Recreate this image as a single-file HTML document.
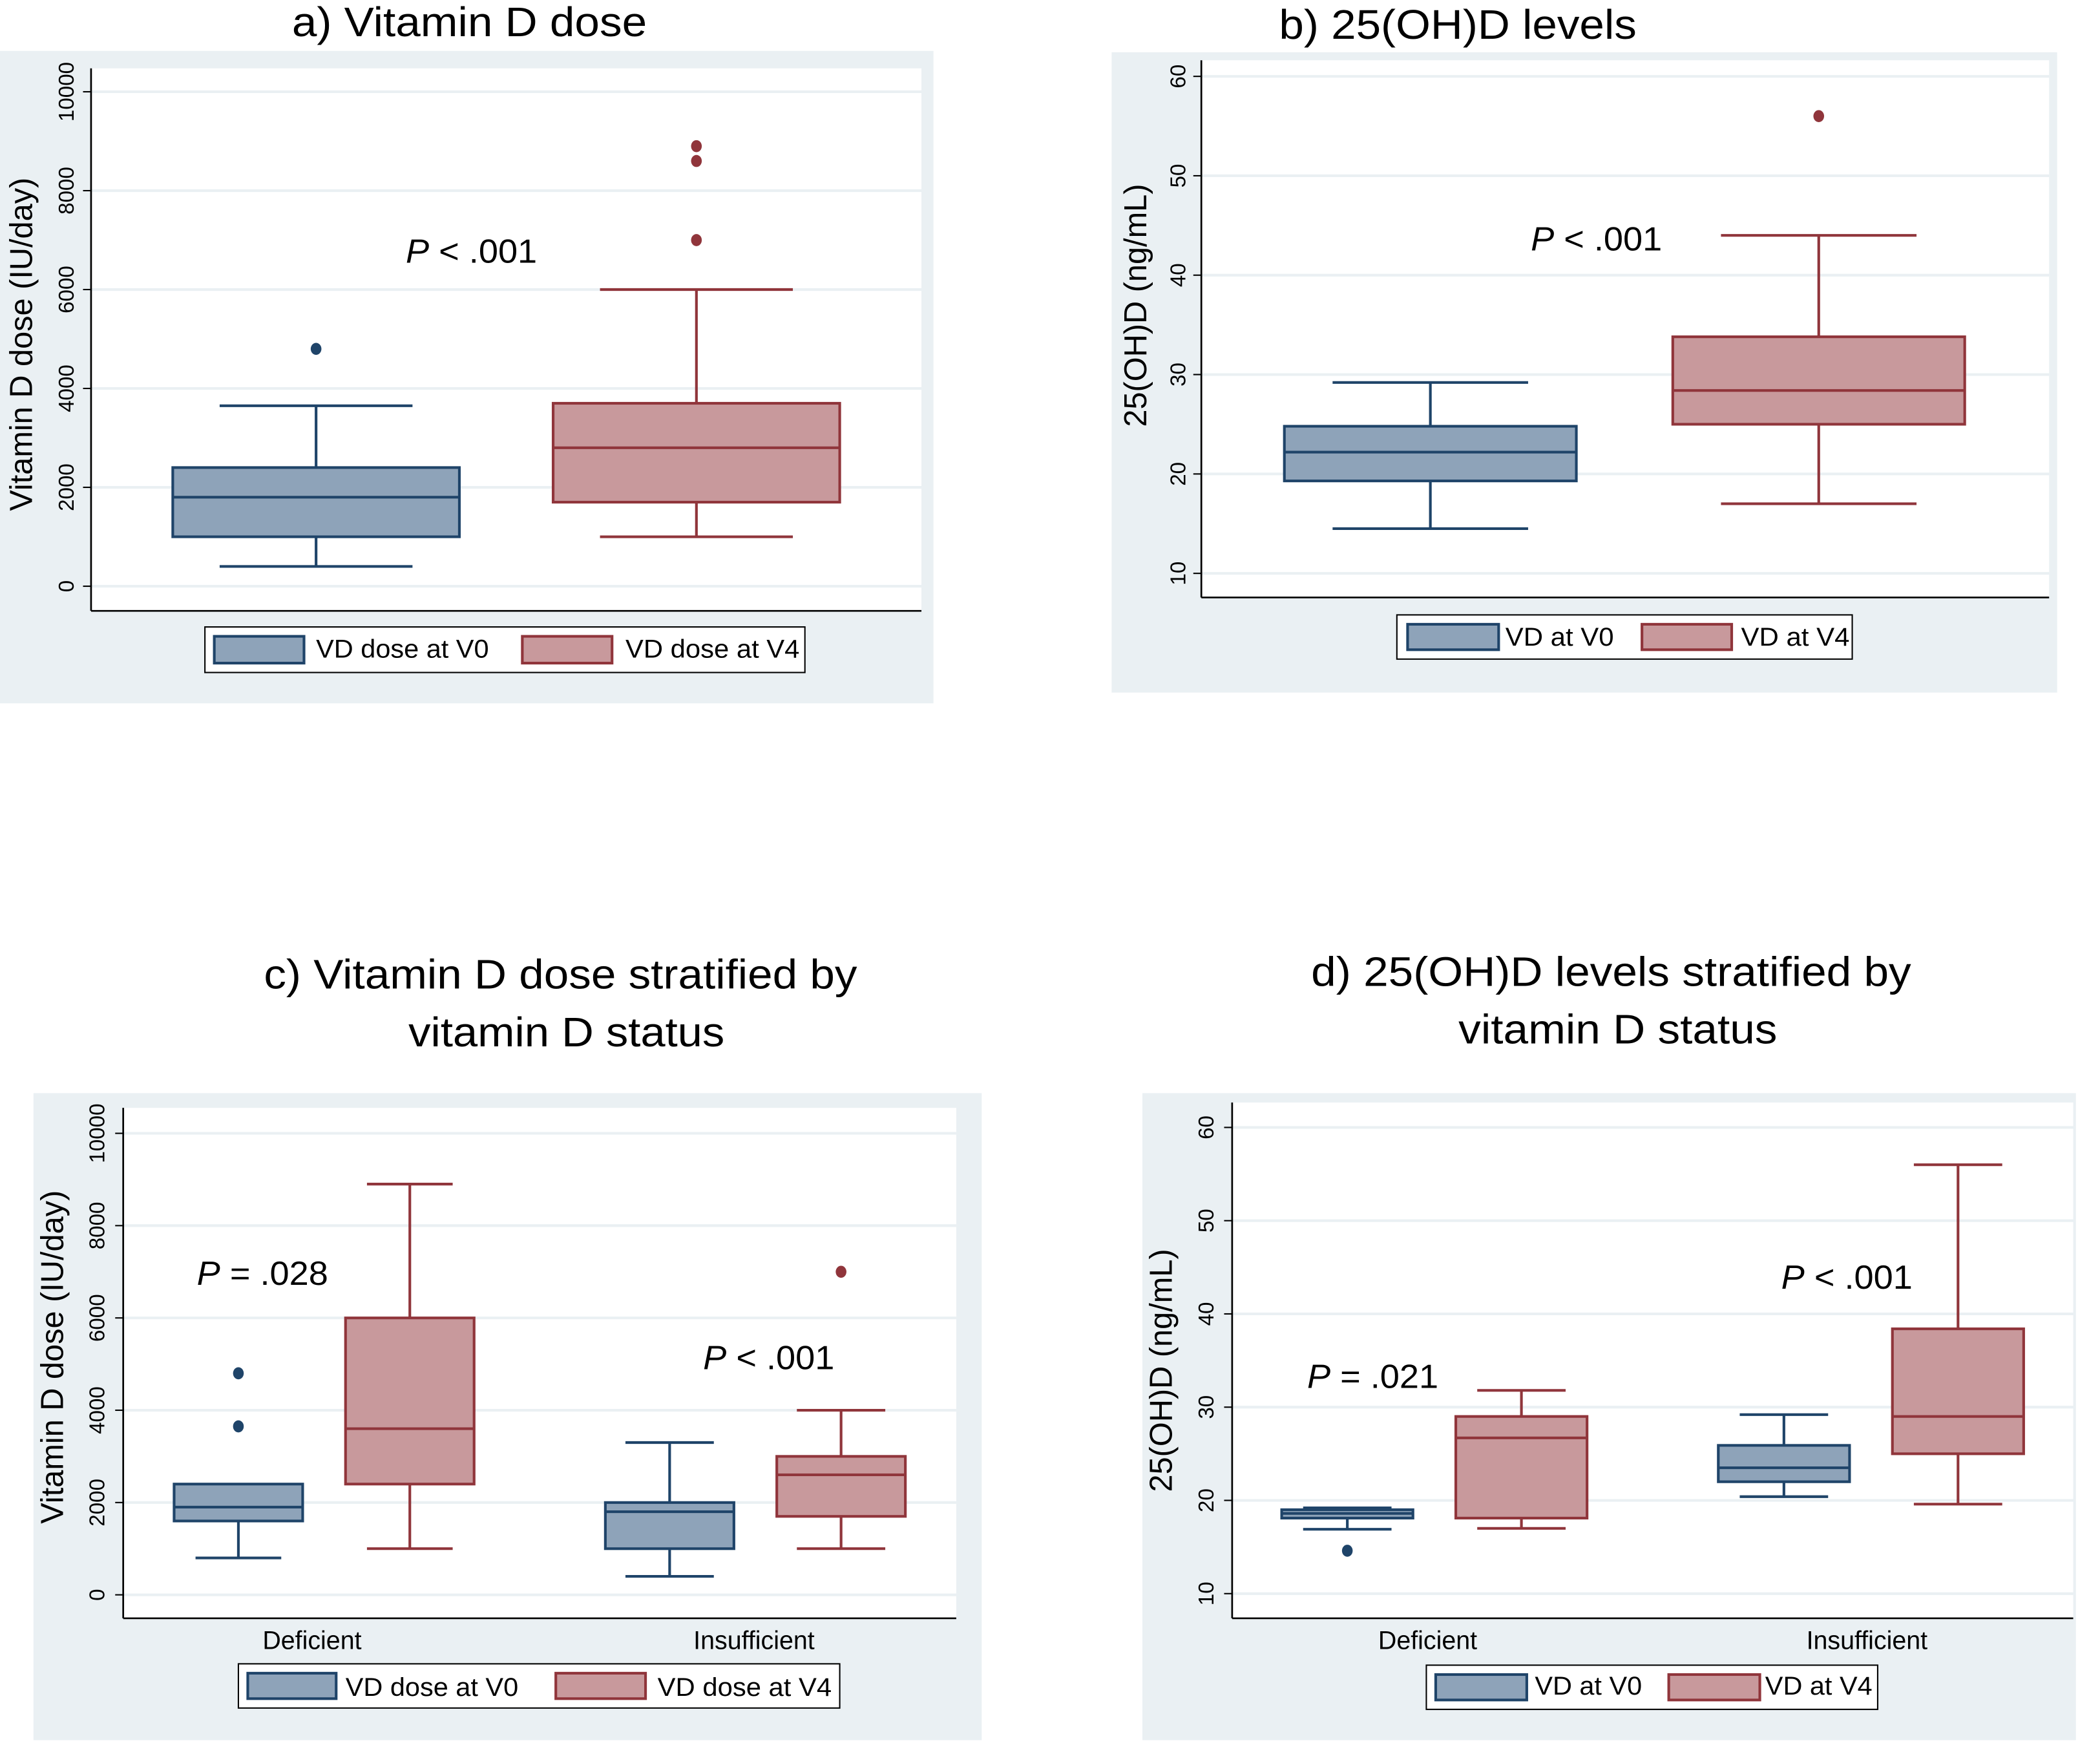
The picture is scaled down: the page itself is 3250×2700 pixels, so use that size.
<!DOCTYPE html>
<html><head><meta charset="utf-8">
<style>
html,body{margin:0;padding:0;background:#fff;}
svg{display:block;}
text{font-family:"Liberation Sans",Arial,sans-serif;fill:#000;}
</style></head>
<body>
<svg id="fig" width="3250" height="2700" viewBox="0 0 1568 1302.6" preserveAspectRatio="none" xmlns="http://www.w3.org/2000/svg"></svg>
<script>
// ---- Panel a data: Vitamin D dose (IU/day) ----
const aCats = ["VD dose at V0","VD dose at V4"];
const aQ1 = [1000, 1700];
const aMed = [1800, 2800];
const aQ3 = [2400, 3700];
const aLo = [400, 1000];
const aHi = [3650, 6000];
const aOut = [[4800],[7000,8600,8900]];
const aTicks = [0,2000,4000,6000,8000,10000];
// ---- Panel b data: 25(OH)D (ng/mL) ----
const bQ1 = [19.3, 25];
const bMed = [22.2, 28.4];
const bQ3 = [24.8, 33.8];
const bLo = [14.5, 17];
const bHi = [29.2, 44];
const bOut = [[],[56]];
const bTicks = [10,20,30,40,50,60];
// ---- Panel c data: dose by status (Deficient V0, Deficient V4, Insufficient V0, Insufficient V4) ----
const cGroups = ["Deficient","Insufficient"];
const cQ1 = [1600, 2400, 1000, 1700];
const cMed = [1900, 3600, 1800, 2600];
const cQ3 = [2400, 6000, 2000, 3000];
const cLo = [800, 1000, 400, 1000];
const cHi = [2400, 8900, 3300, 4000];
const cOut = [[3650,4800],[],[],[7000]];
// ---- Panel d data: 25(OH)D by status ----
const dQ1 = [18.1, 18.1, 22, 25];
const dMed = [18.6, 26.7, 23.5, 29];
const dQ3 = [19, 29, 25.9, 38.4];
const dLo = [16.9, 17, 20.4, 19.6];
const dHi = [19.2, 31.8, 29.2, 56];
const dOut = [[14.6],[],[],[]];

const NS="http://www.w3.org/2000/svg";
const svg=document.getElementById('fig');
const BLUE={fill:"#8ea3b9",stroke:"#1f4469"}, RED={fill:"#c8999c",stroke:"#90353b"};
function el(tag,attrs,parent,txt){const e=document.createElementNS(NS,tag);for(const k in attrs)e.setAttribute(k,attrs[k]);if(txt!==undefined)e.textContent=txt;(parent||svg).appendChild(e);return e;}

function panel(p){
  const g=el('g',{});
  
  
  const bg=el('rect',{x:p.bg[0],y:p.bg[1],width:p.bg[2]-p.bg[0],height:p.bg[3]-p.bg[1],fill:"#eaf0f3"},g);
  
  
  const pl=el('rect',{x:p.L,y:p.T,width:p.R-p.L,height:p.B-p.T,fill:"#fff"},g);
  
  
  const Y=v=>p.y0-(v-p.v0)*p.k;
  p.ticks.forEach(t=>{
    const gl=el('line',{x1:p.L,x2:p.R,y1:Y(t),y2:Y(t),stroke:"#eaf0f3","stroke-width":2},g);
    
    
    el('line',{x1:p.L-6,x2:p.L,y1:Y(t),y2:Y(t),stroke:"#000","stroke-width":1},g);
    const tl=el('text',{x:0,y:0,"font-size":16,"text-anchor":"middle",transform:`translate(${p.tickX},${Y(t)}) rotate(-90)`},g,String(t));
    
    
  });
  el('line',{x1:p.L,x2:p.L,y1:p.T,y2:p.B,stroke:"#000","stroke-width":1.3},g);
  el('line',{x1:p.L,x2:p.R,y1:p.B,y2:p.B,stroke:"#000","stroke-width":1.3},g);
  const yt=el('text',{x:0,y:0,"font-size":23.5,"text-anchor":"middle",transform:`translate(${p.ytX},${p.ytY}) rotate(-90)`},g,p.ytitle);
  
  
  p.titles.forEach(t=>{
    const tt=el('text',{x:t[0],y:t[2],"font-size":31,textLength:t[1]-t[0],lengthAdjust:"spacingAndGlyphs"},g,t[3]);
    
    
  });
  p.boxes.forEach((bx,i)=>{
    const c=bx.col, hw=bx.hw, cw=bx.cw, x=bx.x;
    const bg2=el('g',{},g);
    
    
    el('line',{x1:x,x2:x,y1:Y(p.hi[i]),y2:Y(p.q3[i]),stroke:c.stroke,"stroke-width":2},bg2);
    el('line',{x1:x,x2:x,y1:Y(p.q1[i]),y2:Y(p.lo[i]),stroke:c.stroke,"stroke-width":2},bg2);
    if(p.hi[i]>p.q3[i]) el('line',{x1:x-cw,x2:x+cw,y1:Y(p.hi[i]),y2:Y(p.hi[i]),stroke:c.stroke,"stroke-width":2},bg2);
    el('line',{x1:x-cw,x2:x+cw,y1:Y(p.lo[i]),y2:Y(p.lo[i]),stroke:c.stroke,"stroke-width":2},bg2);
    el('rect',{x:x-hw,y:Y(p.q3[i]),width:2*hw,height:Y(p.q1[i])-Y(p.q3[i]),fill:c.fill,stroke:c.stroke,"stroke-width":2},bg2);
    el('line',{x1:x-hw,x2:x+hw,y1:Y(p.med[i]),y2:Y(p.med[i]),stroke:c.stroke,"stroke-width":2},bg2);
    p.out[i].forEach(o=>{
      const d=el('ellipse',{cx:x,cy:Y(o),rx:4,ry:4.5,fill:c.stroke},g);
      
      
    });
  });
  (p.cats||[]).forEach(ct=>{
    const t=el('text',{x:ct[0],y:1231,"font-size":19,"text-anchor":"middle"},g,ct[1]);
    
    
  });
  p.ptexts.forEach(pt=>{
    const t=el('text',{x:pt[0],y:pt[1],"font-size":25,textLength:98,lengthAdjust:"spacingAndGlyphs"},g);
    
    
    el('tspan',{"font-style":"italic"},t,"P");
    el('tspan',{},t,pt[2]);
  });
  const lg=el('g',{},g);
  
  
  const L=p.legend;
  el('rect',{x:L.box[0],y:L.box[1],width:L.box[2]-L.box[0],height:L.box[3]-L.box[1],fill:"#fff",stroke:"#000","stroke-width":1},lg);
  L.items.forEach((it,j)=>{
    const c=j===0?BLUE:RED;
    const le=el('g',{},lg);
    
    
    el('rect',{x:it[0],y:L.box[1]+7,width:it[1]-it[0],height:L.box[3]-L.box[1]-14,fill:c.fill,stroke:c.stroke,"stroke-width":2},le);
    el('text',{x:it[2],y:L.base,"font-size":19,textLength:it[3]-it[2],lengthAdjust:"spacingAndGlyphs"},le,it[4]);
  });
}

const cw=72, hw=107;
panel({name:'panel-a-vitamin-d-dose',bg:[0,38,697,525],L:68,R:688,T:51,B:456,y0:437.6,v0:0,k:0.03691,ticks:aTicks,tickX:55,
  ytitle:"Vitamin D dose (IU/day)",ytX:24,ytY:257,titles:[[218,483,27,"a) Vitamin D dose"]],
  q1:aQ1,med:aMed,q3:aQ3,lo:aLo,hi:aHi,out:aOut,
  boxes:[{x:236,hw:hw,cw:cw,col:BLUE,label:aCats[0]},{x:520,hw:107,cw:72,col:RED,label:aCats[1]}],
  ptexts:[[303,196," < .001"]],
  legend:{box:[153,468,601,502],base:491,items:[[160,227,236,365,"VD dose at V0"],[390,457,467,597,"VD dose at V4"]]}});
panel({name:'panel-b-25ohd-levels',bg:[830,39,1536,517],L:897,R:1530,T:45,B:446,y0:428,v0:10,k:7.42,ticks:bTicks,tickX:885,
  ytitle:"25(OH)D (ng/mL)",ytX:856,ytY:228,titles:[[955,1222,29,"b) 25(OH)D levels"]],
  q1:bQ1,med:bMed,q3:bQ3,lo:bLo,hi:bHi,out:bOut,
  boxes:[{x:1068,hw:109,cw:73,col:BLUE,label:"v0"},{x:1358,hw:109,cw:73,col:RED,label:"v4"}],
  ptexts:[[1143,187," < .001"]],
  legend:{box:[1043,459,1383,492],base:482,items:[[1051,1119,1124,1205,"VD at V0"],[1226,1293,1300,1381,"VD at V4"]]}});
panel({name:'panel-c-dose-by-status',bg:[25,816,733,1299],L:92,R:714,T:827,B:1208,y0:1190.5,v0:0,k:0.03445,ticks:aTicks,tickX:78,
  ytitle:"Vitamin D dose (IU/day)",ytX:47,ytY:1013,titles:[[197,640,738,"c) Vitamin D dose stratified by"],[305,541,781,"vitamin D status"]],
  q1:cQ1,med:cMed,q3:cQ3,lo:cLo,hi:cHi,out:cOut,
  boxes:[{x:178,hw:48,cw:32,col:BLUE,label:"deficient-v0"},{x:306,hw:48,cw:32,col:RED,label:"deficient-v4"},{x:500,hw:48,cw:33,col:BLUE,label:"insufficient-v0"},{x:628,hw:48,cw:33,col:RED,label:"insufficient-v4"}],
  cats:[[233,cGroups[0]],[563,cGroups[1]]],
  ptexts:[[147,959," = .028"],[525,1022," < .001"]],
  legend:{box:[178,1242,627,1275],base:1266,items:[[185,251,258,387,"VD dose at V0"],[415,482,491,621,"VD dose at V4"]]}});
panel({name:'panel-d-25ohd-by-status',bg:[853,816,1550,1299],L:920,R:1548,T:823,B:1208,y0:1189.6,v0:10,k:6.96,ticks:bTicks,tickX:906,
  ytitle:"25(OH)D (ng/mL)",ytX:875,ytY:1023,titles:[[979,1427,736,"d) 25(OH)D levels stratified by"],[1089,1327,779,"vitamin D status"]],
  q1:dQ1,med:dMed,q3:dQ3,lo:dLo,hi:dHi,out:dOut,
  boxes:[{x:1006,hw:49,cw:33,col:BLUE,label:"deficient-v0"},{x:1136,hw:49,cw:33,col:RED,label:"deficient-v4"},{x:1332,hw:49,cw:33,col:BLUE,label:"insufficient-v0"},{x:1462,hw:49,cw:33,col:RED,label:"insufficient-v4"}],
  cats:[[1066,cGroups[0]],[1394,cGroups[1]]],
  ptexts:[[976,1036," = .021"],[1330,962," < .001"]],
  legend:{box:[1065,1243,1402,1276],base:1265,items:[[1072,1140,1146,1226,"VD at V0"],[1246,1314,1318,1398,"VD at V4"]]}});
</script>
</body></html>
